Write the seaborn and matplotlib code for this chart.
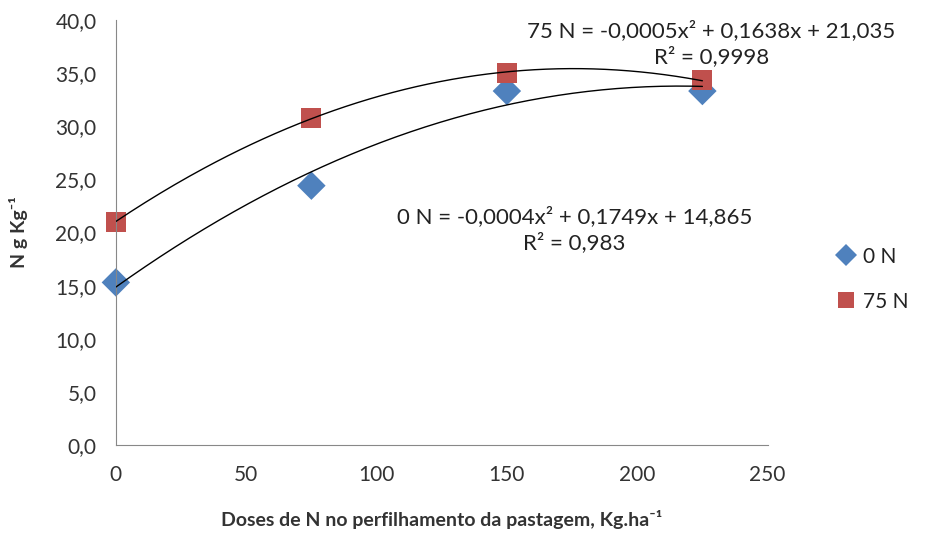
import matplotlib
matplotlib.use("Agg")
import matplotlib.pyplot as plt
import seaborn as sns
import numpy as np
import pandas as pd

# doses de N no perfilhamento (kg/ha)
doses = [0, 75, 150, 225]
n0 = [15.3, 24.4, 33.3, 33.3]
n75 = [21.0, 30.8, 35.0, 34.3]
series = ["0 N", "75 N"]
colors = {"0 N": "#4F81BD", "75 N": "#C0504D"}
markers = {"0 N": "D", "75 N": "s"}
eq_0 = "0 N = -0,0004x² + 0,1749x + 14,865\nR² = 0,983"
eq_75 = "75 N = -0,0005x² + 0,1638x + 21,035\nR² = 0,9998"

df = pd.DataFrame({
    "dose": doses * 2,
    "valor": n0 + n75,
    "serie": [series[0]] * 4 + [series[1]] * 4,
})

sns.set_style("white")
plt.rcParams["font.family"] = ["Lato", "DejaVu Sans"]

fig = plt.figure(figsize=(9.27, 5.35), dpi=100)
ax = fig.add_axes([0.125, 0.168, 0.703, 0.795])

# trend lines (2nd order polynomial)
xs = np.linspace(0, 225, 200)
for name, vals in zip(series, [n0, n75]):
    coef = np.polyfit(doses, vals, 2)
    ax.plot(xs, np.polyval(coef, xs), color="black", lw=1.0, zorder=3)

sns.scatterplot(data=df, x="dose", y="valor", hue="serie", style="serie",
                palette=colors, markers=markers, s=210, edgecolor="none",
                ax=ax, zorder=2, clip_on=False)

ax.set_xlim(0, 250)
ax.set_ylim(0, 40)
ax.set_xticks(range(0, 251, 50))
ax.set_yticks(range(0, 41, 5))
ax.set_yticklabels([f"{v},0" for v in range(0, 41, 5)])
ax.tick_params(axis="both", labelsize=15, colors="#333333", direction="out",
               length=6, color="#888888", width=1, pad=8)
for s in ["top", "right"]:
    ax.spines[s].set_visible(False)
for s in ["left", "bottom"]:
    ax.spines[s].set_color("#888888")

ax.set_xlabel("Doses de N no perfilhamento da pastagem, Kg.ha⁻¹",
              fontsize=14, fontweight="bold", color="#333333", labelpad=18)
ax.set_ylabel("N g Kg⁻¹", fontsize=14, fontweight="bold", color="#333333", labelpad=20)

ax.text(176, 20.3, eq_0, ha="center", va="center", fontsize=16,
        color="#222222", linespacing=1.3)
ax.text(228.5, 37.8, eq_75, ha="center", va="center", fontsize=16,
        color="#222222", linespacing=1.3, clip_on=False)

leg = ax.legend(loc="center left", bbox_to_anchor=(1.06, 0.39), frameon=False,
                fontsize=15, handletextpad=-0.2, labelspacing=1.2, markerscale=0.75)
for t in leg.get_texts():
    t.set_color("#222222")

fig.savefig("out.png", dpi=100)
